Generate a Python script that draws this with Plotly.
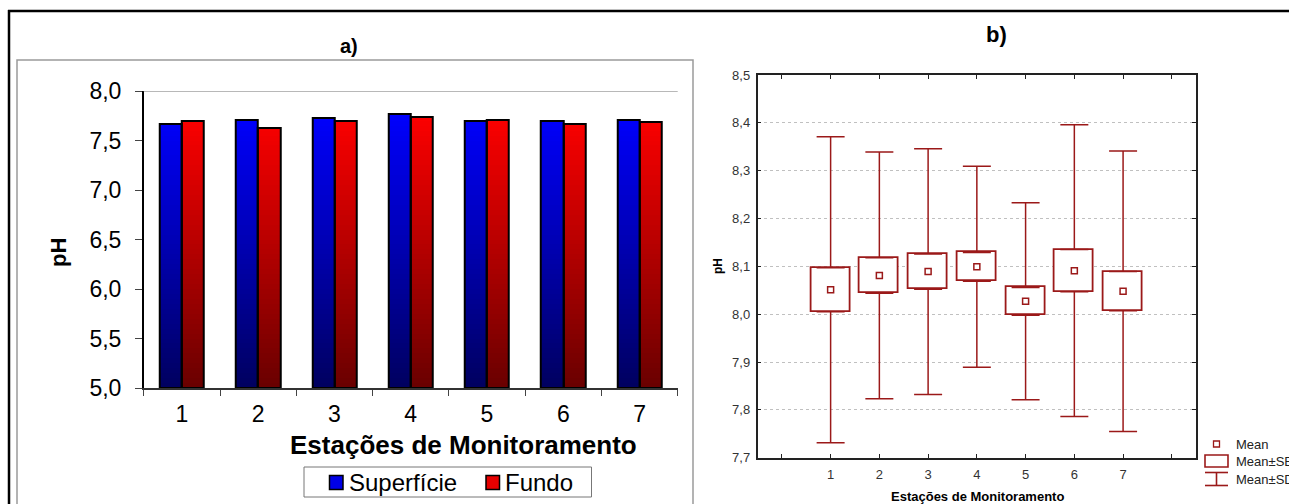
import numpy as np
import plotly.graph_objects as go

# ---- data -------------------------------------------------------------
stations = ["1", "2", "3", "4", "5", "6", "7"]
ph_superficie = [7.67, 7.71, 7.73, 7.77, 7.70, 7.70, 7.71]
ph_fundo = [7.70, 7.63, 7.70, 7.74, 7.71, 7.67, 7.69]

station_num = [1, 2, 3, 4, 5, 6, 7]
ph_mean = [8.051, 8.081, 8.089, 8.099, 8.027, 8.091, 8.048]
ph_se = [0.046, 0.037, 0.037, 0.030, 0.029, 0.044, 0.041]
ph_sd = [0.320, 0.258, 0.257, 0.210, 0.206, 0.305, 0.293]

# ---- page geometry helpers (pixel -> paper) ---------------------------
W, H = 1289, 504


def px(x):
    return x / W


def py(y):
    return 1 - y / H


FONT = "Liberation Sans, Arial, sans-serif"
DARKRED = "rgb(155,25,25)"

fig = go.Figure()

# ---- panel a): grouped bars with a vertical colour gradient -----------
Y0 = 5.0
STEP = 0.05
BAR_W = 0.29
values = ph_superficie + ph_fundo
x_all = stations + stations
offsets = [-BAR_W] * len(stations) + [0.0] * len(stations)
top = max(values)
n_seg = int(np.ceil((top - Y0) / STEP))


def mix(c0, c1, t):
    return "rgb({},{},{})".format(*[int(round(a + (b - a) * t)) for a, b in zip(c0, c1)])


BLUE_BOT, BLUE_TOP = (0, 0, 95), (0, 0, 255)
RED_BOT, RED_TOP = (105, 0, 0), (255, 0, 0)

for k in range(n_seg):
    lo = Y0 + k * STEP
    heights = [max(0.0, min(STEP * 1.4, v - lo)) for v in values]
    t = (k + 0.5) / n_seg
    colors = [mix(BLUE_BOT, BLUE_TOP, t)] * len(stations) + [mix(RED_BOT, RED_TOP, t)] * len(stations)
    fig.add_trace(go.Bar(
        x=x_all, y=heights, base=[lo] * len(values), offset=offsets, width=BAR_W,
        marker=dict(color=colors, line=dict(width=0)),
        xaxis="x", yaxis="y", showlegend=False, hoverinfo="skip",
    ))

# black outline of each bar
fig.add_trace(go.Bar(
    x=x_all, y=[v - Y0 for v in values], base=[Y0] * len(values),
    offset=offsets, width=BAR_W,
    marker=dict(color="rgba(0,0,0,0)", line=dict(color="black", width=2)),
    xaxis="x", yaxis="y", showlegend=False, hoverinfo="skip",
))

# ---- panel b): mean, mean±SE box, mean±SD whiskers --------------------
upper_box = [m + s for m, s in zip(ph_mean, ph_se)]
lower_box = [m - s for m, s in zip(ph_mean, ph_se)]
whisker_len = [d - s for d, s in zip(ph_sd, ph_se)]

fig.add_trace(go.Scatter(
    x=station_num, y=upper_box, mode="markers",
    marker=dict(size=1, color="rgba(0,0,0,0)"),
    error_y=dict(type="data", symmetric=False, array=whisker_len,
                 arrayminus=[0] * len(station_num), width=14, thickness=1.5, color=DARKRED),
    xaxis="x2", yaxis="y2", showlegend=False, hoverinfo="skip",
))
fig.add_trace(go.Scatter(
    x=station_num, y=lower_box, mode="markers",
    marker=dict(size=1, color="rgba(0,0,0,0)"),
    error_y=dict(type="data", symmetric=False, array=[0] * len(station_num),
                 arrayminus=whisker_len, width=14, thickness=1.5, color=DARKRED),
    xaxis="x2", yaxis="y2", showlegend=False, hoverinfo="skip",
))
fig.add_trace(go.Bar(
    x=station_num, y=[2 * s for s in ph_se], base=lower_box, width=0.8,
    marker=dict(color="white", line=dict(color=DARKRED, width=1.8)),
    xaxis="x2", yaxis="y2", showlegend=False, hoverinfo="skip",
))
fig.add_trace(go.Scatter(
    x=station_num, y=ph_mean, mode="markers",
    marker=dict(symbol="square-open", size=6, color=DARKRED, line=dict(width=1.5)),
    xaxis="x2", yaxis="y2", showlegend=False, hoverinfo="skip",
))

# ---- axes -------------------------------------------------------------
fig.update_layout(
    xaxis=dict(
        type="category", domain=[px(143.75), px(677.7)], anchor="y", automargin=False,
        range=[-0.5, 6.5], tickson="boundaries", ticks="outside", ticklen=6,
        tickcolor="#444", showline=True, linecolor="#333", linewidth=1.5,
        showgrid=False, zeroline=False, tickfont=dict(family=FONT, size=23, color="black"),
        ticklabelstandoff=5,
    ),
    yaxis=dict(
        domain=[py(388), py(91)], anchor="x", automargin=False, range=[5, 8], tick0=5, dtick=0.5,
        tickformat=".1f", ticks="outside", ticklen=7, tickcolor="#444",
        showline=True, linecolor="black", linewidth=1.5, showgrid=False,
        zeroline=False, tickfont=dict(family=FONT, size=23, color="black"),
        ticklabelstandoff=9,
    ),
    xaxis2=dict(
        domain=[px(757.5), px(1196.2)], anchor="y2", automargin=False, range=[-0.5, 8.5],
        tickvals=list(range(0, 9)), ticktext=[""] + [str(s) for s in station_num] + [""],
        ticks="inside", ticklen=4, tickcolor="#222", mirror="allticks",
        showline=True, linecolor="#222", linewidth=1.5, showgrid=False, zeroline=False,
        tickfont=dict(family=FONT, size=13, color="#333"), ticklabelstandoff=4,
    ),
    yaxis2=dict(
        domain=[py(457.7), py(75)], anchor="x2", automargin=False, range=[7.7, 8.5],
        tick0=7.7, dtick=0.1,
        tickformat=".1f", ticks="inside", ticklen=4, tickcolor="#222", mirror="allticks",
        showline=True, linecolor="#222", linewidth=1.5, showgrid=True,
        gridcolor="#c0c0c0", griddash="dot", gridwidth=1, zeroline=False,
        tickfont=dict(family=FONT, size=13, color="#333"), ticklabelstandoff=3,
    ),
)

# ---- frames, legends and labels ---------------------------------------
shapes = [
    # outer frame
    dict(type="line", xref="paper", yref="paper", x0=px(8), x1=px(1290), y0=py(11), y1=py(11),
         line=dict(color="black", width=2.5)),
    dict(type="line", xref="paper", yref="paper", x0=px(9), x1=px(9), y0=py(10), y1=py(510),
         line=dict(color="black", width=2.5)),
    # panel a) chart area border
    dict(type="rect", xref="paper", yref="paper", x0=px(17), x1=px(693), y0=py(60), y1=py(512),
         line=dict(color="#9a9a9a", width=1.5)),
    # top edge of the plot area in panel a)
    dict(type="line", xref="x domain", yref="y", x0=0, x1=1, y0=8, y1=8,
         line=dict(color="#a0a0a0", width=1.5)),
    # panel a) legend
    dict(type="rect", xref="paper", yref="paper", x0=px(304), x1=px(591.5), y0=py(467), y1=py(497),
         line=dict(color="#777", width=1)),
    dict(type="rect", xref="paper", yref="paper", x0=px(329.5), x1=px(343), y0=py(475.5), y1=py(489.5),
         fillcolor="rgb(0,0,230)", line=dict(color="black", width=1.5)),
    dict(type="rect", xref="paper", yref="paper", x0=px(486), x1=px(499.5), y0=py(475.5), y1=py(489.5),
         fillcolor="rgb(230,0,0)", line=dict(color="black", width=1.5)),
    # panel b) legend icons
    dict(type="rect", xref="paper", yref="paper", x0=px(1213.5), x1=px(1219.5), y0=py(441), y1=py(447),
         line=dict(color=DARKRED, width=1.3)),
    dict(type="rect", xref="paper", yref="paper", x0=px(1205), x1=px(1228), y0=py(455), y1=py(467),
         line=dict(color=DARKRED, width=1.6)),
    dict(type="line", xref="paper", yref="paper", x0=px(1205), x1=px(1228), y0=py(472.5), y1=py(472.5),
         line=dict(color=DARKRED, width=1.6)),
    dict(type="line", xref="paper", yref="paper", x0=px(1216.5), x1=px(1216.5), y0=py(472.5), y1=py(485.5),
         line=dict(color=DARKRED, width=1.6)),
    dict(type="line", xref="paper", yref="paper", x0=px(1205), x1=px(1228), y0=py(485.5), y1=py(485.5),
         line=dict(color=DARKRED, width=1.6)),
]


def label(text, x, y, size, bold=False, color="black", xanchor="center", angle=0):
    return dict(
        text="<b>%s</b>" % text if bold else text, x=px(x), y=py(y),
        xref="paper", yref="paper", xanchor=xanchor, yanchor="middle",
        showarrow=False, textangle=angle,
        font=dict(family=FONT, size=size, color=color),
    )


annotations = [
    label("a)", 349, 46, 20, bold=True),
    label("pH", 58, 253, 22, bold=True, angle=-90),
    label("Estações de Monitoramento", 463, 445, 26, bold=True),
    label("Superfície", 347, 482, 24, xanchor="left"),
    label("Fundo", 503, 482, 24, xanchor="left"),
    label("b)", 997, 35, 22, bold=True),
    label("pH", 718, 266, 12, bold=True, angle=-90),
    label("Estações de Monitoramento", 977, 496, 13, bold=True),
    label("Mean", 1234, 444, 13, color="#222", xanchor="left"),
    label("Mean±SE", 1234, 461.5, 13, color="#222", xanchor="left"),
    label("Mean±SD", 1234, 479, 13, color="#222", xanchor="left"),
]

fig.update_layout(
    template="none",
    width=W, height=H, autosize=False,
    margin=dict(l=0, r=0, t=0, b=0, pad=0, autoexpand=False),
    paper_bgcolor="white", plot_bgcolor="white",
    barmode="overlay", bargap=0, separators=",.",
    shapes=shapes, annotations=annotations,
    showlegend=False,
    font=dict(family=FONT),
)

fig.write_html("out.html", config={"displayModeBar": False})
